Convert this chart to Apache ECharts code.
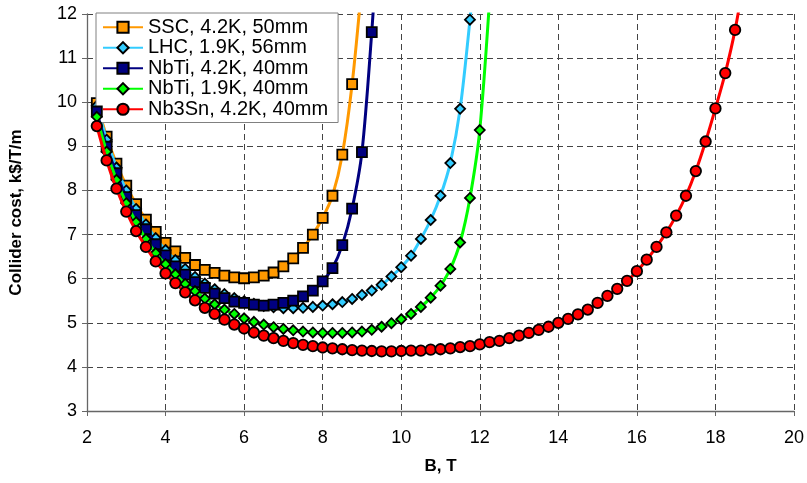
<!DOCTYPE html>
<html>
<head>
<meta charset="utf-8">
<script src="https://cdn.jsdelivr.net/npm/echarts@6/dist/echarts.min.js"></script>
<style>
html,body{margin:0;padding:0;background:#fff;}
#chart{width:807px;height:483px;}
</style>
</head>
<body>
<div id="chart"></div>
<script>
// Field B (T) sample points, shared by all series
const fieldB = [2.25,2.5,2.75,3,3.25,3.5,3.75,4,4.25,4.5,4.75,5,5.25,5.5,5.75,6,6.25,6.5,6.75,7,
  7.25,7.5,7.75,8,8.25,8.5,8.75,9,9.25,9.5,9.75,10,10.25,10.5,10.75,11,11.25,11.5,11.75,12,
  12.25,12.5,12.75,13,13.25,13.5,13.75,14,14.25,14.5,14.75,15,15.25,15.5,15.75,16,16.25,16.5,16.75,17,
  17.25,17.5,17.75,18,18.25,18.5];

const seriesNames = ['SSC, 4.2K, 50mm','LHC, 1.9K, 56mm','NbTi, 4.2K, 40mm','NbTi, 1.9K, 40mm','Nb3Sn, 4.2K, 40mm'];

// Collider cost, k$/T/m
const ssc = [9.98,9.22,8.61,8.11,7.69,7.34,7.06,6.81,6.62,6.47,6.31,6.20,6.13,6.07,6.03,6.01,6.03,6.07,6.14,6.28,
  6.46,6.70,7.00,7.38,7.88,8.81,10.41];
const lhc = [9.92,9.15,8.52,8.00,7.58,7.23,6.92,6.65,6.42,6.22,6.04,5.89,5.76,5.65,5.56,5.49,5.43,5.38,5.35,5.33,
  5.33,5.34,5.36,5.39,5.42,5.47,5.54,5.63,5.73,5.86,6.05,6.26,6.52,6.90,7.33,7.88,8.62,9.85,11.87];
const nbti42 = [9.79,8.99,8.39,7.85,7.44,7.12,6.78,6.53,6.28,6.09,5.92,5.79,5.66,5.56,5.48,5.45,5.41,5.39,5.41,5.45,
  5.50,5.60,5.73,5.94,6.24,6.76,7.59,8.87,11.59];
const nbti19 = [9.67,8.88,8.24,7.71,7.28,6.90,6.58,6.33,6.10,5.88,5.72,5.55,5.42,5.30,5.20,5.10,5.02,4.96,4.90,4.86,
  4.83,4.80,4.78,4.77,4.77,4.77,4.78,4.80,4.84,4.91,4.99,5.08,5.20,5.36,5.57,5.84,6.22,6.82,7.83,9.37];
const nb3sn = [9.46,8.68,8.04,7.52,7.08,6.72,6.39,6.12,5.90,5.69,5.51,5.34,5.20,5.07,4.96,4.87,4.78,4.71,4.65,4.59,
  4.54,4.50,4.47,4.44,4.42,4.40,4.38,4.37,4.36,4.35,4.35,4.36,4.37,4.37,4.39,4.40,4.42,4.45,4.47,4.51,
  4.56,4.59,4.65,4.71,4.77,4.84,4.91,5.00,5.09,5.19,5.30,5.45,5.61,5.77,5.95,6.17,6.43,6.72,7.05,7.43,
  7.88,8.44,9.11,9.86,10.66,11.64];

// curve continuation beyond last marker (off the top of the plot)
const sscTail = [9.0, 12.7];
const lhcTail = [11.9, 13.4];
const nbti42Tail = [9.4, 13.6];
const nbti19Tail = [12.3, 13.0];
const nb3snTail = [18.75, 12.9];

const xTicks = [2,4,6,8,10,12,14,16,18,20];
const yTicks = [3,4,5,6,7,8,9,10,11,12];

function pts(vals, tail) {
  const d = vals.map((v, i) => [fieldB[i], v]);
  d.push({ value: tail, symbol: 'none' });
  return d;
}

const styles = [
  { color: '#FF9900', symbol: 'rect', size: 10 },
  { color: '#33CCFF', symbol: 'diamond', size: 10 },
  { color: '#000080', symbol: 'rect', size: 10 },
  { color: '#00FF00', symbol: 'diamond', size: 10 },
  { color: '#FF0000', symbol: 'circle', size: 10.5 }
];
const datas = [pts(ssc, sscTail), pts(lhc, lhcTail), pts(nbti42, nbti42Tail), pts(nbti19, nbti19Tail), pts(nb3sn, nb3snTail)];

const font = '"Liberation Sans", Arial, sans-serif';

const chart = echarts.init(document.getElementById('chart'), null, { renderer: 'canvas' });
chart.setOption({
  animation: false,
  backgroundColor: '#fff',
  grid: { left: 83, right: 13, top: 14, bottom: 72, containLabel: false },
  legend: {
    orient: 'vertical', left: 96, top: 13,
    itemWidth: 40, itemHeight: 14, itemGap: 0,
    padding: [4, 10, 3, 6],
    borderColor: '#808080', borderWidth: 1, backgroundColor: '#fff',
    textStyle: { fontFamily: font, fontSize: 20, lineHeight: 20.5, color: '#000' },
    data: seriesNames
  },
  xAxis: {
    type: 'value', min: xTicks[0], max: xTicks[xTicks.length - 1], interval: 2,
    name: 'B, T', nameLocation: 'middle', nameGap: 47,
    nameTextStyle: { fontFamily: font, fontWeight: 'bold', fontSize: 17, color: '#000' },
    axisLine: { show: true, onZero: false, lineStyle: { color: '#666', width: 1.3 } },
    axisTick: { show: true, inside: false, length: 5, lineStyle: { color: '#666' } },
    axisLabel: { fontFamily: font, fontSize: 18, color: '#000', margin: 18 },
    splitLine: { show: true, lineStyle: { color: '#444', type: [6, 4], width: 1 } }
  },
  yAxis: {
    type: 'value', min: yTicks[0], max: yTicks[yTicks.length - 1], interval: 1,
    name: 'Collider cost, k$/T/m', nameLocation: 'middle', nameGap: 62, nameRotate: 90,
    nameTextStyle: { fontFamily: font, fontWeight: 'bold', fontSize: 17, color: '#000' },
    axisLine: { show: true, onZero: false, lineStyle: { color: '#666', width: 1.3 } },
    axisTick: { show: true, inside: false, length: 5, lineStyle: { color: '#666' } },
    axisLabel: { fontFamily: font, fontSize: 18, color: '#000', margin: 10 },
    splitLine: { show: true, lineStyle: { color: '#444', type: [6, 4], width: 1 } }
  },
  series: seriesNames.map((n, k) => ({
    name: n, type: 'line', data: datas[k],
    smooth: 0.3, clip: true, z: 2 + k,
    symbol: styles[k].symbol, symbolSize: styles[k].size, showSymbol: true,
    itemStyle: { color: styles[k].color, borderColor: '#000', borderWidth: 1.8 },
    lineStyle: { color: styles[k].color, width: 3 },
    emphasis: { disabled: true }
  }))
});
</script>
</body>
</html>
